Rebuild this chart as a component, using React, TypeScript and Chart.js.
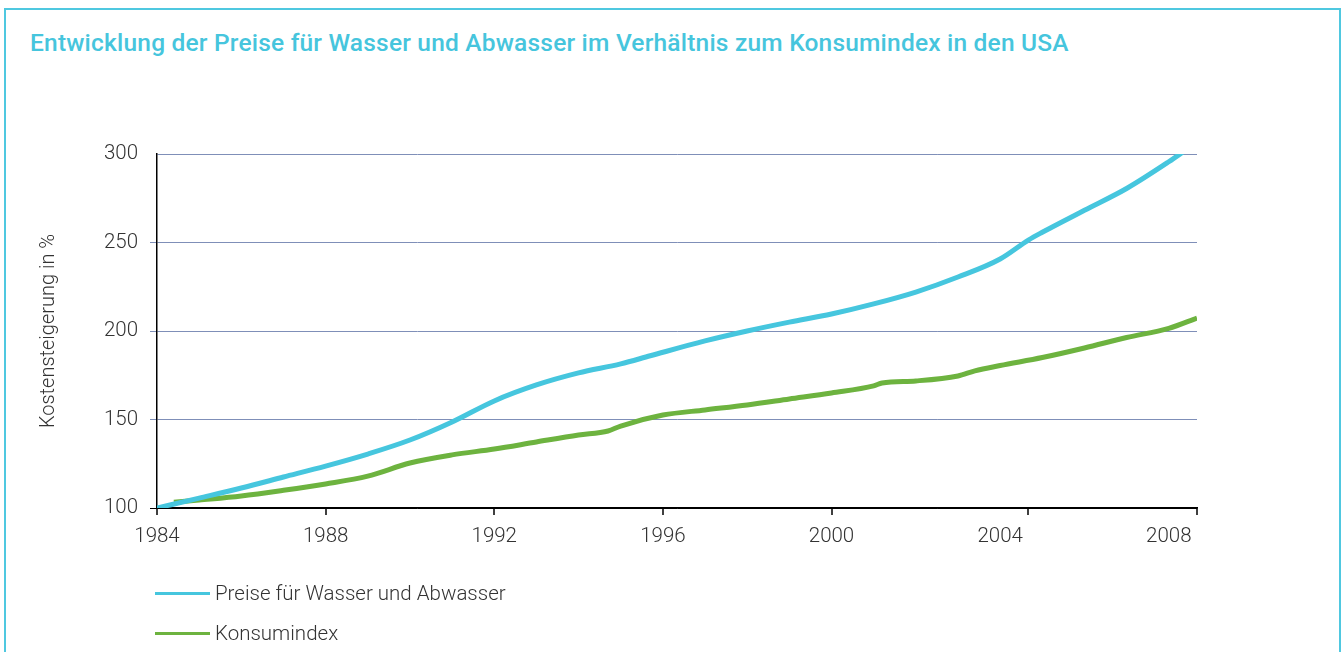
import { useEffect, useRef } from "react";
import { Chart, registerables } from "chart.js";

Chart.register(...registerables);

const TITLE = "Entwicklung der Preise für Wasser und Abwasser im Verhältnis zum Konsumindex in den USA";
const Y_TITLE = "Kostensteigerung in %";
const SERIES_NAMES = ["Preise für Wasser und Abwasser", "Konsumindex"];
const SERIES_COLORS = ["#46c6de", "#6db33f"];

const waterYears = [1984, 1985, 1986, 1987, 1988, 1989, 1990, 1991, 1992, 1993, 1994, 1995, 1995.7, 1997, 1998, 1999, 2000, 2001, 2002, 2003, 2004, 2004.67, 2005, 2006, 2007, 2008, 2008.42];
const waterValues = [100, 105.6, 111.3, 117.5, 123.7, 130.5, 138.4, 148.6, 160.5, 169.5, 176.3, 181.4, 186, 194.4, 200, 205, 209.6, 215.3, 222, 230.5, 240.7, 251.4, 255.8, 268.2, 280.5, 295.6, 302.5];

const cpiYears = [1984.4, 1985, 1986, 1987, 1988, 1989, 1990, 1991, 1992, 1993, 1994, 1994.7, 1995, 1996, 1997, 1998, 1999, 2000, 2001, 2001.2, 2002, 2003, 2003.4, 2004, 2005, 2006, 2007, 2008, 2008.67];
const cpiValues = [103.2, 104.5, 106.8, 110, 113.6, 118, 125.4, 130, 133.3, 137.3, 141.2, 143.5, 146.3, 152.5, 155.4, 158.2, 161.6, 165, 169, 170.6, 171.8, 174.6, 177.5, 180.5, 185, 190.4, 196.3, 201.5, 207.3];

const xTickYears = [1984, 1988, 1992, 1996, 2000, 2004, 2008];
const xTickMarkYears = [1984, 1988, 1992, 1996, 2000, 2004.67, 2008.67];
const yTicks = [100, 150, 200, 250, 300];
const X_MIN = 1984;
const X_MAX = 2008.67;
const Y_MIN = 100;
const Y_MAX = 300;

const FONT = "Roboto, 'Liberation Sans', sans-serif";
const TEXT_COLOR = "#333";
const GRID_COLOR = "#7f8fb8";
const LABEL_SIZE = 20.5;

const tickMarksPlugin = {
  id: "tickMarks",
  afterDraw(chart: any) {
    const { ctx, chartArea } = chart;
    const x = chart.scales.x;
    ctx.save();
    ctx.strokeStyle = "#000";
    ctx.lineWidth = 1.5;
    xTickMarkYears.forEach((v) => {
      const px = Math.round(x.getPixelForValue(v));
      ctx.beginPath();
      ctx.moveTo(px, chartArea.bottom);
      ctx.lineTo(px, chartArea.bottom + 7);
      ctx.stroke();
    });
    ctx.restore();
  },
};

export default function App() {
  const canvasRef = useRef<HTMLCanvasElement | null>(null);

  useEffect(() => {
    if (!canvasRef.current) return;
    const chart = new Chart(canvasRef.current, {
      type: "line",
      data: {
        datasets: [
          {
            label: SERIES_NAMES[0],
            data: waterYears.map((x, i) => ({ x, y: waterValues[i] })),
            borderColor: SERIES_COLORS[0],
            borderWidth: 5,
            pointRadius: 0,
            cubicInterpolationMode: "monotone",
            borderCapStyle: "butt",
            order: 1,
          },
          {
            label: SERIES_NAMES[1],
            data: cpiYears.map((x, i) => ({ x, y: cpiValues[i] })),
            borderColor: SERIES_COLORS[1],
            borderWidth: 5,
            pointRadius: 0,
            cubicInterpolationMode: "monotone",
            borderCapStyle: "butt",
            order: 2,
          },
        ],
      },
      options: {
        animation: false,
        responsive: false,
        maintainAspectRatio: false,
        layout: { padding: { top: 154, right: 144, left: 0, bottom: 0 } },
        plugins: {
          legend: { display: false },
          tooltip: { enabled: false },
          title: { display: false },
        },
        scales: {
          x: {
            type: "linear",
            min: X_MIN,
            max: X_MAX,
            afterBuildTicks: (s: any) => {
              s.ticks = xTickYears.map((v) => ({ value: v }));
            },
            afterFit: (s: any) => {
              s.height = 144;
            },
            ticks: {
              callback: (v: any) => String(v),
              autoSkip: false,
              maxRotation: 0,
              padding: 17,
              color: TEXT_COLOR,
              font: { family: FONT, size: LABEL_SIZE, weight: "300" },
            },
            grid: { display: true, drawOnChartArea: false, drawTicks: false },
            border: { color: "#000", width: 1.5 },
          },
          y: {
            type: "linear",
            min: Y_MIN,
            max: Y_MAX,
            afterBuildTicks: (s: any) => {
              s.ticks = yTicks.map((v) => ({ value: v }));
            },
            afterFit: (s: any) => {
              s.width = 157;
            },
            ticks: {
              padding: 12,
              color: TEXT_COLOR,
              font: { family: FONT, size: LABEL_SIZE, weight: "300" },
            },
            grid: {
              color: (c: any) => (c.tick && c.tick.value === 100 ? "#000" : GRID_COLOR),
              tickColor: (c: any) =>
                c.tick && c.tick.value === 300 ? "rgba(0,0,0,0)" : c.tick && c.tick.value === 100 ? "#000" : GRID_COLOR,
              tickLength: 7,
              lineWidth: 1,
            },
            border: { color: "#000", width: 1.5 },
            title: {
              display: true,
              text: Y_TITLE,
              color: TEXT_COLOR,
              font: { family: FONT, size: 20, weight: "300" },
              padding: { top: 37, bottom: 0 },
            },
          },
        },
      },
      plugins: [tickMarksPlugin],
    });
    return () => chart.destroy();
  }, []);

  return (
    <div style={{ position: "absolute", left: 0, top: 0, width: 1341, height: 652, overflow: "hidden", background: "#fff" }}>
      <div
        style={{
          position: "absolute",
          left: 4,
          top: 8,
          width: 1337,
          height: 700,
          boxSizing: "border-box",
          border: "2px solid #4fc8e0",
        }}
      />
      <div
        style={{
          position: "absolute",
          left: 30,
          top: 30,
          fontFamily: FONT,
          fontWeight: 500,
          fontSize: 24.5,
          letterSpacing: "0.2px",
          lineHeight: "26px",
          color: "#46c5dd",
          whiteSpace: "nowrap",
        }}
      >
        {TITLE}
      </div>
      <canvas ref={canvasRef} width={1341} height={652} style={{ position: "absolute", left: 0, top: 0 }} />
      {SERIES_NAMES.map((name, i) => (
        <div key={name} style={{ position: "absolute", left: 155, top: 580 + i * 40, height: 26, display: "flex", alignItems: "center" }}>
          <div style={{ width: 55, height: 3, background: SERIES_COLORS[i] }} />
          <div style={{ marginLeft: 5, fontFamily: FONT, fontWeight: 300, fontSize: LABEL_SIZE, color: TEXT_COLOR, whiteSpace: "nowrap" }}>{name}</div>
        </div>
      ))}
    </div>
  );
}
